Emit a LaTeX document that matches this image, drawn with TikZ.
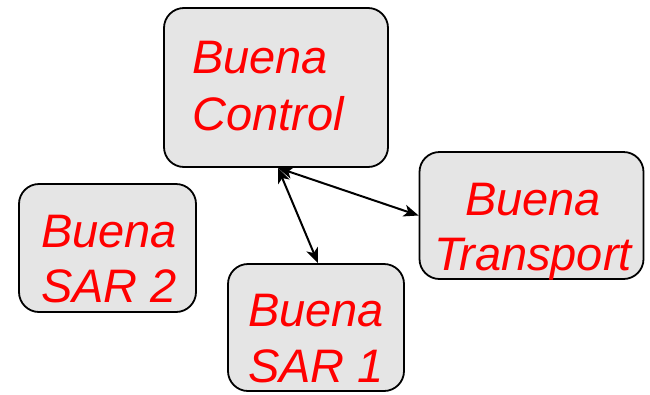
\documentclass[tikz,border=0pt]{standalone}
\usepackage{fontspec}
\setmainfont{Liberation Sans}
\usetikzlibrary{arrows.meta}
\tikzset{
  box/.style={draw=black, line width=1.8pt, fill=gray!20, rounded corners=20pt, inner sep=0pt},
  lbl/.style={text=red, font=\fontsize{47}{54}\selectfont\itshape, inner sep=0pt},
  link/.style={line width=2pt, {Stealth[length=15pt,width=12pt,inset=4pt]}-{Stealth[length=15pt,width=12pt,inset=4pt]}}
}
\begin{document}
\begin{tikzpicture}[x=1pt,y=-1pt]
\useasboundingbox (0,0) rectangle (650,394);
\node[box, minimum width=224pt, minimum height=159pt] (ctrl) at (276,87.5) {};
\node[box, minimum width=177pt, minimum height=128pt] (sar2) at (107.5,248) {};
\node[box, minimum width=176pt, minimum height=127pt] (sar1) at (316,327.5) {};
\node[box, minimum width=224pt, minimum height=127pt] (tr) at (531.5,215.5) {};
\node[lbl, anchor=base west] (c1) at (192,73) {Buena};
\node[lbl, anchor=base west] (c2) at (192,130) {Control};
\node[lbl, anchor=base] (s2a) at (109,247) {Buena};
\node[lbl, anchor=base] (s2b) at (109,302) {SAR 2};
\node[lbl, anchor=base] (s1a) at (316,326) {Buena};
\node[lbl, anchor=base] (s1b) at (316,382) {SAR 1};
\node[lbl, anchor=base] (ta) at (533,215) {Buena};
\node[lbl, anchor=base] (tb) at (533,270) {Transport};
\coordinate (cs) at ([xshift=2pt]ctrl.south);
\coordinate (s1n) at ([xshift=2pt]sar1.north);
\draw[link] (cs) -- (s1n);
\draw[link] (cs) -- (tr.west);
\end{tikzpicture}
\end{document}
